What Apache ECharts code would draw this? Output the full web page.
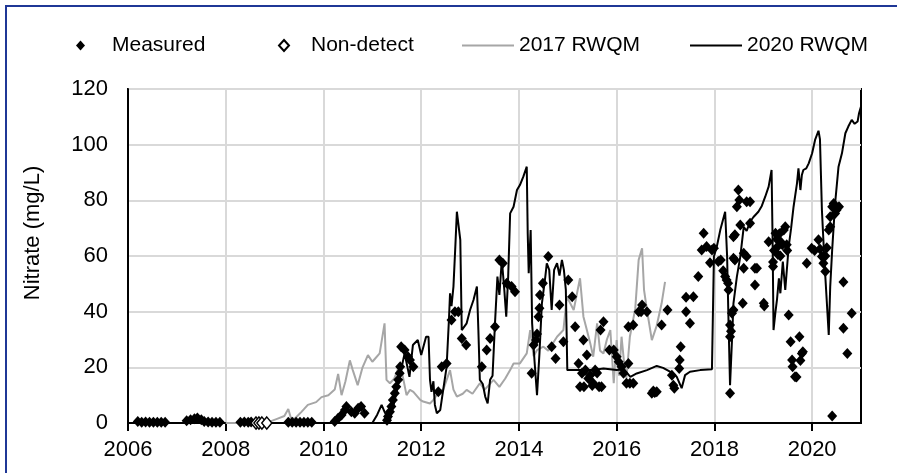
<!DOCTYPE html>
<html>
<head>
<meta charset="utf-8">
<script src="https://cdn.jsdelivr.net/npm/echarts@6/dist/echarts.min.js"></script>
<style>
html,body{margin:0;padding:0;background:#fff;}
#chart{width:897px;height:473px;}
</style>
</head>
<body>
<div id="chart"></div>
<script>
// ---- data (year, mg/L) ----
const xTickLabels = [2006, 2008, 2010, 2012, 2014, 2016, 2018, 2020];
const yTickLabels = [0, 20, 40, 60, 80, 100, 120];

const rwqm2017 = [
[2008.0,0],[2008.5,0],[2008.9,0.5],[2009.05,1.5],[2009.2,2.5],[2009.28,5],[2009.33,2],[2009.41,1.5],
[2009.55,4],[2009.68,6.5],[2009.85,7.5],[2009.96,9.3],[2010.1,10],[2010.23,12],[2010.3,17.6],[2010.37,10],
[2010.45,15],[2010.54,22.5],[2010.6,19],[2010.7,13.6],[2010.8,20],[2010.91,24.4],[2011.0,22],[2011.05,23],
[2011.15,25],[2011.25,35.8],[2011.29,15.5],[2011.36,14.3],[2011.45,16],[2011.57,21.4],[2011.7,10],[2011.77,11.9],
[2011.84,11.2],[2011.98,8.3],[2012.04,7.7],[2012.18,7],[2012.25,8.3],[2012.39,11.9],[2012.45,11.9],[2012.59,19],
[2012.66,12],[2012.73,9.5],[2012.85,10.5],[2012.93,11.9],[2013.05,10.5],[2013.2,14.3],[2013.3,12],[2013.48,15.5],
[2013.6,13],[2013.72,16],[2013.82,19],[2013.89,21.4],[2014.02,21.4],[2014.16,25],[2014.23,33.4],[2014.3,24],
[2014.37,26.2],[2014.5,27.4],[2014.6,26],[2014.78,31],[2014.91,33.4],[2014.98,45.4],[2015.05,43],[2015.12,40.6],
[2015.25,52],[2015.32,38.2],[2015.39,33.4],[2015.46,28.6],[2015.52,23.8],[2015.6,35.8],[2015.66,26],[2015.73,25],
[2015.8,30],[2015.87,33.4],[2015.94,14.3],[2016.0,29.8],[2016.05,17],[2016.1,31],[2016.15,22],[2016.2,16],
[2016.27,31],[2016.38,41],[2016.45,58.6],[2016.52,62.8],[2016.56,47.8],[2016.62,40.6],[2016.72,29.8],[2016.82,35],
[2016.92,43],[2016.99,50.7]
];

const rwqm2020 = [
[2011.0,0],[2011.1,3],[2011.19,6.5],[2011.25,4],[2011.35,0.5],[2011.46,8.3],[2011.56,16.6],[2011.66,25],
[2011.76,16.6],[2011.83,28],[2011.93,29.8],[2012.0,24.4],[2012.04,23.8],[2012.1,31],[2012.15,31],[2012.18,15.5],
[2012.21,11.2],[2012.25,15],[2012.28,6.5],[2012.32,3.5],[2012.39,4.7],[2012.45,11.9],[2012.52,20.2],[2012.57,38],
[2012.59,46.6],[2012.62,42],[2012.66,49],[2012.7,64],[2012.73,75.9],[2012.76,75.9],[2012.8,65.8],[2012.83,33.4],
[2012.93,35.8],[2013.0,40.6],[2013.07,44.2],[2013.14,49],[2013.17,33.4],[2013.2,15.5],[2013.26,14],[2013.31,9.5],
[2013.36,7],[2013.41,15.5],[2013.46,17],[2013.51,35.8],[2013.56,52.6],[2013.6,46],[2013.65,58.6],[2013.7,48],
[2013.74,38.2],[2013.78,52.6],[2013.82,75.3],[2013.89,77.7],[2013.96,83.7],[2014.02,85.5],[2014.09,88.5],[2014.16,92.1],
[2014.18,68],[2014.2,53.8],[2014.24,69.3],[2014.27,35.8],[2014.32,22],[2014.37,10],[2014.42,25],[2014.47,43],
[2014.54,52.6],[2014.57,57.4],[2014.62,55],[2014.67,40.6],[2014.72,55],[2014.78,57.4],[2014.83,53],[2014.88,58.6],
[2014.92,55],[2014.96,47.8],[2014.99,19],[2015.18,19],[2015.5,19],[2015.73,19.6],[2016.0,19],[2016.15,19.3],
[2016.28,16.6],[2016.41,17.8],[2016.62,19],[2016.82,20.5],[2016.95,19.8],[2017.1,18.4],[2017.23,16.6],[2017.33,12.5],
[2017.4,17.2],[2017.5,18.4],[2017.71,19],[2017.95,19.3],[2017.99,59.8],[2018.05,63.4],[2018.12,69.3],[2018.22,75.9],
[2018.26,59.8],[2018.29,35.8],[2018.32,13.6],[2018.36,29.8],[2018.39,43],[2018.46,52.6],[2018.53,59.8],[2018.6,70.5],
[2018.66,69],[2018.73,72.3],[2018.8,74],[2018.9,75.9],[2018.97,78],[2019.04,81.3],[2019.11,84.9],[2019.17,90.9],
[2019.19,66.9],[2019.21,33.4],[2019.25,40],[2019.28,44.2],[2019.32,52],[2019.35,46.6],[2019.4,58],[2019.45,47.8],
[2019.52,63.4],[2019.57,70],[2019.62,77.7],[2019.69,86.1],[2019.72,91.5],[2019.76,83.7],[2019.79,89.1],[2019.82,90.9],
[2019.88,91.5],[2019.93,93.3],[2020.0,96.9],[2020.06,101.7],[2020.13,105],[2020.16,102],[2020.2,76.5],[2020.25,58.6],
[2020.29,46.6],[2020.34,31.6],[2020.37,49],[2020.41,62.2],[2020.47,78.9],[2020.54,92.1],[2020.61,96.9],[2020.68,104.1],
[2020.74,106.5],[2020.81,108.9],[2020.87,107.5],[2020.93,108.3],[2020.96,111.3],[2021.0,113.7]
];

const measured = [
[2006.2,0.5],[2006.28,0.3],[2006.36,0.4],[2006.44,0.3],[2006.52,0.3],[2006.6,0.3],[2006.68,0.3],[2006.76,0.3],
[2007.2,0.8],[2007.28,1.2],[2007.36,1.5],[2007.42,1.8],[2007.5,1.2],[2007.56,0.5],[2007.64,0.4],[2007.72,0.3],[2007.8,0.3],[2007.88,0.3],
[2008.3,0.3],[2008.38,0.4],[2008.46,0.3],[2008.52,0.4],
[2009.28,0.3],[2009.36,0.3],[2009.44,0.3],[2009.52,0.3],[2009.6,0.3],[2009.68,0.3],[2009.76,0.3],
[2010.23,0.5],[2010.3,1.7],[2010.37,2.9],[2010.44,4.7],[2010.47,5.9],[2010.57,4],[2010.64,3.5],[2010.71,5.3],[2010.77,5.9],[2010.84,3.5],
[2011.3,1],[2011.32,2.3],[2011.36,4],[2011.39,5.9],[2011.42,8.3],[2011.46,10.7],[2011.49,13],[2011.53,15.5],
[2011.56,17.9],[2011.57,20.2],[2011.59,27.4],[2011.66,26.2],[2011.73,23.8],[2011.77,22.6],[2011.84,20.2],
[2012.35,11.2],[2012.42,20.2],[2012.52,21.4],[2012.62,37],[2012.69,40],[2012.76,40],[2012.83,30.4],[2012.92,28],
[2013.24,20.2],[2013.34,26.2],[2013.41,30.4],[2013.51,34.6],[2013.6,58.6],[2013.67,57.4],[2013.75,50.2],[2013.85,49],[2013.92,47.2],
[2014.26,17.9],[2014.3,28],[2014.35,29.8],[2014.37,32],[2014.4,38.2],[2014.42,41.2],[2014.43,46],[2014.49,50.2],
[2014.6,59.8],[2014.67,27.4],[2014.75,23.2],[2014.83,42.4],[2014.91,29.2],
[2015.01,51.4],[2015.09,45.4],[2015.15,34.6],[2015.22,21.4],[2015.25,13],[2015.29,17.9],[2015.32,29.8],[2015.33,13],
[2015.36,19],[2015.39,24.4],[2015.42,16],[2015.46,17.2],[2015.5,13.5],[2015.52,14.3],[2015.56,19],[2015.6,18],
[2015.64,13],[2015.67,33.4],[2015.73,36.4],[2015.69,13],
[2015.85,26.2],[2015.94,26.2],[2016.0,23.8],[2016.04,22],[2016.1,20.2],[2016.14,17.9],[2016.2,14.3],[2016.24,21.4],
[2016.27,14.3],[2016.24,34.6],[2016.34,14.3],[2016.34,35.2],[2016.45,40],[2016.52,42.4],[2016.5,40],[2016.62,40],
[2016.72,10.7],[2016.75,11.5],[2016.78,11],[2016.82,11.2],[2016.92,35.2],[2017.04,40.6],[2017.13,17.2],[2017.16,13.6],
[2017.18,12.5],[2017.28,19.6],[2017.29,22.6],[2017.31,27.4],[2017.42,40],[2017.42,45.2],[2017.5,35.8],[2017.57,45.4],
[2017.67,52.6],[2017.74,62.2],[2017.78,68.2],[2017.84,63.4],[2017.91,57.6],[2017.95,62.2],[2017.99,62.8],
[2018.08,58],[2018.13,58.6],[2018.18,54.7],[2018.22,52.6],[2018.25,51.4],[2018.29,47.8],[2018.28,50.2],[2018.32,10.7],
[2018.32,35.2],[2018.32,31],[2018.34,33],[2018.36,39.4],[2018.39,40.6],[2018.39,59.2],[2018.39,66.9],[2018.42,58.6],
[2018.42,67.6],[2018.46,77.7],[2018.49,83.7],[2018.51,80.1],[2018.53,71.1],[2018.58,43],[2018.6,61],[2018.6,55.6],
[2018.66,59.8],[2018.66,79.5],[2018.73,79.5],[2018.73,71.8],[2018.83,55.6],[2018.87,55.6],[2018.83,49.6],[2019.01,43],[2019.02,42],
[2019.11,65.1],[2019.2,56.2],[2019.2,57.8],[2019.22,62],[2019.25,68.2],[2019.28,66],[2019.3,63.5],[2019.33,68],
[2019.36,65],[2019.39,64],[2019.42,69.3],[2019.45,70.5],[2019.48,64],[2019.49,62],[2019.35,60],[2019.3,60.5],
[2019.52,38.8],[2019.56,29.2],[2019.59,22.6],[2019.6,20.2],[2019.65,16.6],[2019.68,16.5],[2019.74,31],[2019.76,22.5],
[2019.79,25],[2019.81,25.6],[2019.89,57.4],
[2019.99,62.8],[2020.05,62],[2020.13,65.8],[2020.16,62.5],[2020.2,59.8],[2020.23,57.4],[2020.27,54.4],[2020.27,60],
[2020.3,63],[2020.34,69.3],[2020.37,70.5],[2020.37,74.1],[2020.41,77.7],[2020.44,78.9],[2020.47,75.3],[2020.5,76.5],
[2020.55,77.7],[2020.41,2.5],[2020.64,50.7],[2020.64,34],[2020.72,25],[2020.81,39.4]
];

const nonDetect = [[2008.62,0],[2008.68,0],[2008.74,0],[2008.84,0]];

// ---- chart ----
const FONT = "'Liberation Sans', Arial, sans-serif";
const chart = echarts.init(document.getElementById('chart'), null, {renderer: 'canvas'});
const legendText = {fontFamily: FONT, fontSize: 21, color: '#000'};

chart.setOption({
  animation: false,
  backgroundColor: '#fff',
  graphic: [{
    type: 'polyline', z: -10,
    shape: {points: [[6, 600], [6, 6], [1200, 6]]},
    style: {fill: null, stroke: '#1f3796', lineWidth: 2}
  }],
  legend: [
    {data: ['Measured'], left: 76, top: 35, padding: 0, itemWidth: 9, itemHeight: 10,
     textStyle: Object.assign({padding: [0,0,0,22]}, legendText)},
    {data: ['Non-detect'], left: 278, top: 35, padding: 0, itemWidth: 10, itemHeight: 11,
     textStyle: Object.assign({padding: [0,0,0,17]}, legendText)},
    {data: ['2017 RWQM'], left: 461, top: 35, padding: 0, itemWidth: 52, itemHeight: 14,
     itemStyle: {opacity: 0}, textStyle: legendText},
    {data: ['2020 RWQM'], left: 689, top: 35, padding: 0, itemWidth: 52, itemHeight: 14,
     itemStyle: {opacity: 0}, textStyle: legendText}
  ],
  grid: {left: 128, right: 36, top: 89, bottom: 50, show: true, borderColor: '#000', borderWidth: 2, containLabel: false},
  xAxis: {
    type: 'value', min: 2006, max: 2021, interval: 2,
    axisLine: {show: true, lineStyle: {color: '#000', width: 2}},
    axisTick: {show: true, inside: false, length: 8, customValues: xTickLabels, lineStyle: {color: '#000', width: 2}},
    axisLabel: {customValues: xTickLabels, margin: 16, fontFamily: FONT, fontSize: 22, color: '#000',
                formatter: v => String(v)},
    splitLine: {show: true, lineStyle: {color: '#d9d9d9', width: 2}}
  },
  yAxis: {
    type: 'value', min: 0, max: 120, interval: 20,
    name: 'Nitrate (mg/L)', nameLocation: 'middle', nameGap: 84, nameRotate: 90,
    nameTextStyle: {fontFamily: FONT, fontSize: 22, color: '#000', padding: [0,0,0,46]},
    axisLine: {show: true, lineStyle: {color: '#000', width: 2}},
    axisTick: {show: false},
    axisLabel: {customValues: yTickLabels, margin: 20, fontFamily: FONT, fontSize: 22, color: '#000'},
    splitLine: {show: true, lineStyle: {color: '#d9d9d9', width: 2}}
  },
  series: [
    {name: '2017 RWQM', type: 'line', data: rwqm2017, showSymbol: false, symbol: 'none', z: 2,
     lineStyle: {color: '#a6a6a6', width: 2}, itemStyle: {color: '#a6a6a6'}},
    {name: '2020 RWQM', type: 'line', data: rwqm2020, showSymbol: false, symbol: 'none', z: 3,
     lineStyle: {color: '#000', width: 2}, itemStyle: {color: '#000'}},
    {name: 'Measured', type: 'scatter', data: measured, symbol: 'diamond', symbolSize: [10, 11], z: 4,
     itemStyle: {color: '#000', opacity: 1}},
    {name: 'Non-detect', type: 'scatter', data: nonDetect, symbol: 'diamond', symbolSize: [10, 12], z: 5,
     itemStyle: {color: '#fff', borderColor: '#000', borderWidth: 1.5, opacity: 1}}
  ]
});
</script>
</body>
</html>
